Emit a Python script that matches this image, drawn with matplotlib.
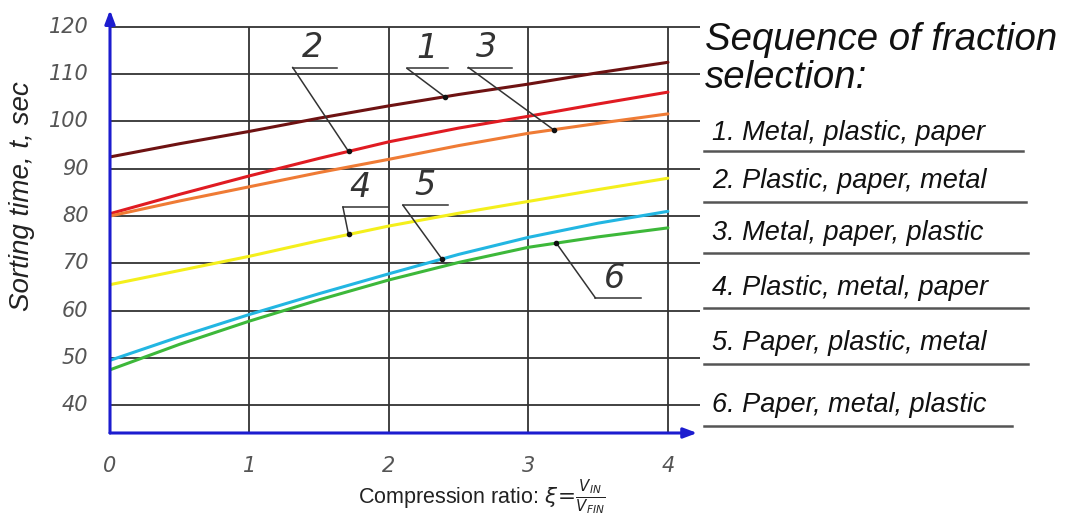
import matplotlib
matplotlib.use("Agg")
import matplotlib.pyplot as plt
from matplotlib import font_manager
import numpy as np

# compression ratio steps and sorting times
ratio = [0, 0.5, 1, 1.5, 2, 2.5, 3, 3.5, 4]
t1 = [92.5, 95.3, 97.9, 100.7, 103.3, 105.7, 107.9, 110.3, 112.5]
t2 = [80.5, 84.6, 88.5, 92.2, 95.7, 98.6, 101.1, 103.7, 106.2]
t3 = [80.0, 83.2, 86.2, 89.2, 92.0, 94.9, 97.5, 99.6, 101.6]
t4 = [65.5, 68.5, 71.5, 74.8, 77.9, 80.6, 83.1, 85.6, 88.0]
t5 = [49.5, 54.5, 59.2, 63.6, 67.8, 71.9, 75.5, 78.5, 81.0]
t6 = [47.5, 52.9, 57.8, 62.3, 66.5, 70.2, 73.4, 75.6, 77.5]

curve_names = ["1", "2", "3", "4", "5", "6"]
colors = ["#6e1212", "#e01b22", "#ef7b35", "#f4ef1c", "#22b6e2", "#3db83a"]
sequences = ["1. Metal, plastic, paper", "2. Plastic, paper, metal",
             "3. Metal, paper, plastic", "4. Plastic, metal, paper",
             "5. Paper, plastic, metal", "6. Paper, metal, plastic"]

x_ticks = [0, 1, 2, 3, 4]
y_ticks = [40, 50, 60, 70, 80, 90, 100, 110, 120]

installed = {f.name for f in font_manager.fontManager.ttflist}
if "Liberation Sans Narrow" in installed:
    num_family, tick_size, lab_size = "Liberation Sans Narrow", 19, 28
else:
    num_family, tick_size, lab_size = "DejaVu Sans", 15, 24

W, H = 1068, 524
fig = plt.figure(figsize=(W / 100, H / 100), dpi=100)
fig.patch.set_facecolor("white")

# axes box in pixels: left 110, right 700, top 10, bottom 433
ax = fig.add_axes([110 / W, 1 - 433 / H, 590 / W, 423 / H])
x0, x1 = 0, 4.23
y0, y1 = 34.14, 123.56
ax.set_xlim(x0, x1)
ax.set_ylim(y0, y1)
ax.axis("off")

grid_c = "#333333"
ax.hlines(y_ticks, 0, x1, color=grid_c, lw=1.3, zorder=1)
ax.vlines(x_ticks[1:], y0, 120, color=grid_c, lw=1.3, zorder=1)

axis_c = "#1c1ccf"
ax.annotate("", xy=(0, y1), xytext=(0, y0),
            arrowprops=dict(arrowstyle="-|>,head_length=0.8,head_width=0.3",
                            color=axis_c, lw=2.2, shrinkA=0, shrinkB=0), zorder=5)
ax.annotate("", xy=(x1 - 0.02, y0), xytext=(0, y0),
            arrowprops=dict(arrowstyle="-|>,head_length=0.8,head_width=0.3",
                            color=axis_c, lw=2.2, shrinkA=0, shrinkB=0), zorder=5)

series = [t1, t2, t3, t4, t5, t6]
for s, c in zip(series, colors):
    ax.plot(ratio, s, color=c, lw=2.2, solid_capstyle="round", zorder=3)

tick_font = dict(family=num_family, style="italic", color="#555555",
                 fontsize=tick_size)
for v in y_ticks:
    ax.text(-0.155, v, str(v), ha="right", va="center", **tick_font)
for v in x_ticks:
    ax.text(v, 27.2, str(v), ha="center", va="center", **tick_font)

# leader labels: (name, label x, underline y, underline x0, x1, target x, series)
leaders = [
    ("1", 2.27, 111.2, 2.13, 2.42, 2.40, t1),
    ("2", 1.45, 111.4, 1.31, 1.63, 1.71, t2),
    ("3", 2.70, 111.4, 2.57, 2.88, 3.18, t3),
    ("4", 1.79, 81.9, 1.67, 1.99, 1.71, t4),
    ("5", 2.26, 82.3, 2.10, 2.42, 2.38, t5),
    ("6", 3.62, 62.7, 3.48, 3.81, 3.20, t6),
]
for name, lx, uy, ux0, ux1, tx, s in leaders:
    ty = np.interp(tx, ratio, s)
    ax.plot([ux0, ux1], [uy, uy], color="#333333", lw=1.1, zorder=4)
    ax.plot([ux0, tx], [uy, ty], color="#333333", lw=1.1, zorder=4)
    ax.plot([tx], [ty], "o", color="#111111", ms=3, zorder=4)
    ax.text(lx, uy + 0.7, name, ha="center", va="bottom", family=num_family,
            style="italic", fontsize=lab_size, color="#333333")

# y label
fig.text(22 / W, 1 - 196 / H, "Sorting time, t, sec", rotation=90, ha="center",
         va="center", family="Liberation Sans", style="italic", fontsize=20,
         color="#222222")
# x label
fig.text(482 / W, 1 - 497 / H,
         r"Compression ratio: $\xi\!=\!\frac{V_{IN}}{V_{FIN}}$",
         ha="center", va="center", family="Liberation Sans", fontsize=15.5,
         color="#222222", math_fontfamily="dejavusans")

# legend block on the right
title_font = dict(family="Liberation Sans", style="italic", fontsize=27.6, color="#111111")
fig.text(705 / W, 1 - 50 / H, "Sequence of fraction", ha="left", va="baseline", **title_font)
fig.text(705 / W, 1 - 88 / H, "selection:", ha="left", va="baseline", **title_font)

item_base = [140, 188, 240, 295, 350, 412]
item_line = [151, 202, 253, 308, 364, 426]
item_end = [1023, 1026, 1028, 1028, 1028, 1012]
for txt, b, ly, le in zip(sequences, item_base, item_line, item_end):
    fig.text(712 / W, 1 - b / H, txt, ha="left", va="baseline",
             family="Liberation Sans", style="italic", fontsize=19.5, color="#111111")
    fig.add_artist(plt.Line2D([704 / W, le / W], [1 - ly / H, 1 - ly / H],
                              color="#555555", lw=1.8, transform=fig.transFigure))

fig.savefig("out.png", dpi=100)
